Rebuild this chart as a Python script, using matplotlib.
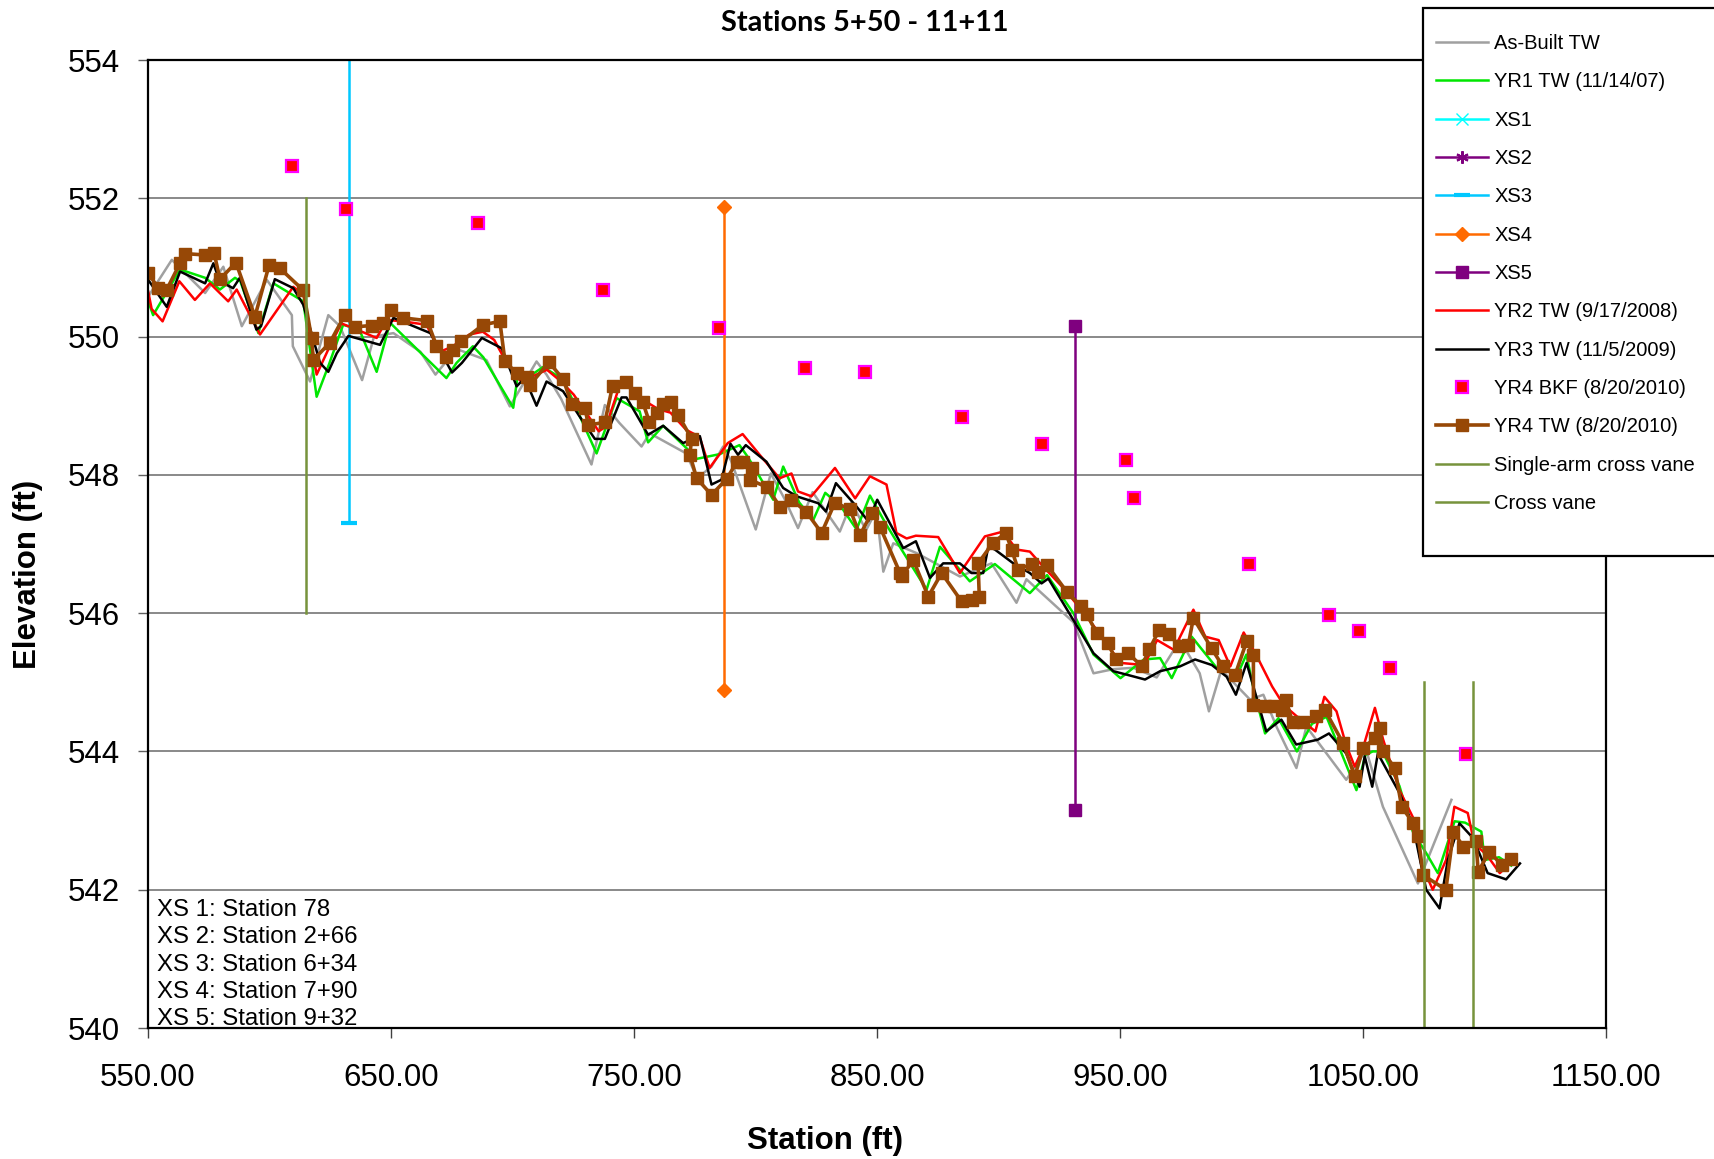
import matplotlib
matplotlib.use("Agg")
import matplotlib.pyplot as plt
from matplotlib.patches import Rectangle

plt.rcParams['font.family'] = ['Liberation Sans', 'DejaVu Sans']

# ---- data (station ft, elevation ft) ----
asbuilt_x = [550.1, 559.8, 573.5, 581.0, 588.6, 598.9, 609.2, 609.6, 616.7, 624.2, 629.0, 638.1, 643.0,
             651.0, 662.1, 668.3, 677.0, 689.3, 698.9, 709.9, 714.0, 720.0, 732.5, 738.0, 744.0, 753.1,
             756.5, 771.5, 776.0, 781.9, 786.7, 790.0, 800.1, 806.3, 812.0, 817.5, 823.5, 834.7, 839.5,
             845.5, 849.8, 852.6, 856.7, 866.2, 884.1, 897.1, 907.4, 911.5, 930.8, 939.1, 947.3, 955.5,
             965.1, 974.7, 982.8, 986.6, 991.7, 1003.5, 1009.0, 1014.5, 1022.6, 1026.7, 1043.1, 1051.3,
             1058.2, 1072.6, 1086.4]
asbuilt_y = [550.58, 551.11, 550.63, 551.01, 550.15, 550.82, 550.31, 549.86, 549.35, 550.31, 550.15, 549.37,
             550.00, 550.05, 549.78, 549.45, 549.82, 549.66, 548.99, 549.64, 549.45, 549.10, 548.15, 549.01,
             548.75, 548.41, 548.60, 548.31, 547.95, 548.12, 548.41, 548.20, 547.21, 548.02, 547.65, 547.23,
             547.75, 547.18, 547.60, 547.20, 547.49, 546.60, 547.01, 546.87, 546.53, 546.72, 546.15, 546.49,
             545.87, 545.13, 545.19, 545.21, 545.07, 545.61, 545.13, 544.58, 545.18, 544.75, 544.82, 544.35,
             543.76, 544.36, 543.59, 544.02, 543.20, 542.09, 543.30]

yr1_x = [550.1, 552.1, 563.2, 573.5, 579.6, 585.8, 588.0, 595.4, 601.6, 613.9, 619.4, 624.5, 630.3, 637.0,
         644.1, 649.6, 672.8, 677.0, 683.7, 688.0, 700.3, 702.0, 708.0, 712.6, 720.9, 734.6, 742.8, 752.3,
         755.8, 762.0, 771.5, 775.6, 785.3, 793.4, 797.0, 807.3, 811.4, 818.0, 823.8, 828.7, 835.0, 841.6,
         847.1, 853.5, 860.1, 870.4, 875.9, 888.2, 898.5, 912.9, 920.0, 930.8, 939.1, 950.2, 959.8, 966.5,
         971.3, 979.5, 990.9, 999.2, 1002.0, 1005.0, 1009.7, 1015.2, 1022.8, 1029.0, 1035.0, 1042.0, 1047.3,
         1051.0, 1054.0, 1058.0, 1065.0, 1070.5, 1076.0, 1080.8, 1087.7, 1092.0, 1098.7, 1100.1, 1106.0,
         1111.0]
yr1_y = [550.51, 550.31, 550.97, 550.85, 550.68, 550.85, 550.80, 550.05, 550.77, 550.51, 549.13, 549.60,
         550.17, 550.10, 549.49, 550.20, 549.40, 549.62, 549.86, 549.70, 548.97, 549.40, 549.45, 549.56,
         549.38, 548.31, 549.11, 548.92, 548.47, 548.71, 548.39, 548.23, 548.30, 548.43, 548.25, 547.64,
         548.12, 547.60, 547.35, 547.74, 547.55, 547.21, 547.70, 547.30, 546.92, 546.34, 546.96, 546.46,
         546.71, 546.29, 546.55, 546.00, 545.40, 545.06, 545.33, 545.35, 545.06, 545.66, 545.16, 545.18,
         545.40, 544.90, 544.26, 544.48, 544.00, 544.40, 544.50, 543.90, 543.44, 543.95, 544.00, 544.00,
         543.50, 542.84, 542.53, 542.24, 542.99, 542.97, 542.84, 542.43, 542.47, 542.35]

yr2_x = [550.1, 551.5, 556.0, 562.9, 569.3, 575.5, 583.0, 586.5, 596.1, 609.8, 614.0, 619.4, 624.8, 629.6,
         636.0, 644.1, 648.2, 655.0, 664.6, 670.1, 675.0, 682.3, 687.8, 692.5, 697.6, 703.0, 708.0, 714.2,
         720.0, 725.2, 735.5, 738.5, 743.8, 748.0, 753.0, 760.0, 765.0, 771.5, 777.0, 781.1, 788.6, 794.7,
         801.7, 809.9, 814.8, 817.5, 823.0, 832.7, 841.0, 847.1, 853.9, 858.0, 862.2, 866.0, 875.2, 884.1,
         894.4, 901.9, 907.4, 912.9, 917.7, 927.3, 934.0, 940.4, 950.2, 959.8, 965.3, 972.1, 980.2, 985.1,
         990.6, 995.4, 1000.9, 1005.7, 1012.6, 1017.4, 1023.0, 1030.4, 1034.1, 1039.1, 1043.0, 1046.6,
         1050.0, 1054.9, 1058.3, 1065.0, 1070.5, 1073.9, 1078.7, 1084.2, 1087.6, 1093.1, 1095.8, 1101.0,
         1106.3, 1111.0]
yr2_y = [550.65, 550.40, 550.22, 550.80, 550.53, 550.77, 550.51, 550.68, 550.03, 550.72, 550.60, 549.45,
         549.86, 550.19, 550.10, 549.98, 550.24, 550.22, 550.17, 549.78, 549.85, 550.03, 550.07, 549.95,
         549.62, 549.37, 549.42, 549.52, 549.35, 549.16, 548.63, 548.70, 549.26, 549.26, 549.10, 548.95,
         548.90, 548.65, 548.55, 548.10, 548.46, 548.59, 548.29, 547.95, 548.02, 547.76, 547.69, 548.10,
         547.66, 547.98, 547.86, 547.16, 547.08, 547.12, 547.10, 546.58, 547.11, 547.18, 546.92, 546.89,
         546.70, 546.34, 546.05, 545.76, 545.28, 545.25, 545.61, 545.47, 546.05, 545.66, 545.61, 545.23,
         545.72, 545.42, 544.94, 544.67, 544.50, 544.29, 544.79, 544.58, 544.10, 543.78, 544.05, 544.63,
         544.17, 543.44, 543.05, 542.38, 542.00, 542.43, 543.20, 543.11, 542.67, 542.50, 542.24, 542.40]

yr3_x = [550.1, 557.7, 563.2, 573.5, 576.9, 579.5, 585.0, 587.8, 594.6, 596.5, 602.2, 609.8, 613.9, 620.8,
         624.2, 627.7, 632.5, 645.5, 651.0, 666.2, 675.1, 679.2, 687.4, 695.6, 701.7, 705.0, 709.9, 714.0,
         720.8, 727.7, 733.9, 738.0, 744.9, 746.9, 755.8, 762.0, 770.2, 777.1, 781.9, 786.0, 789.7, 792.8,
         796.0, 804.5, 811.4, 816.9, 825.8, 829.0, 833.1, 841.6, 846.4, 850.1, 860.8, 866.0, 871.8, 877.2,
         884.1, 888.9, 893.7, 895.8, 898.5, 906.1, 912.9, 917.7, 920.5, 930.8, 939.1, 947.3, 952.8, 960.3,
         966.5, 974.7, 980.9, 987.8, 993.9, 997.7, 1002.1, 1010.2, 1016.4, 1022.5, 1031.4, 1036.0, 1043.1,
         1048.6, 1050.7, 1053.8, 1056.1, 1065.0, 1070.5, 1076.0, 1081.5, 1084.9, 1089.7, 1095.2, 1101.3,
         1108.9, 1114.6]
yr3_y = [550.82, 550.43, 550.94, 550.77, 551.06, 550.80, 550.70, 550.85, 550.10, 550.15, 550.83, 550.70,
         550.46, 549.62, 549.49, 549.76, 550.01, 549.88, 550.27, 550.05, 549.48, 549.62, 549.98, 549.83,
         549.28, 549.40, 549.00, 549.35, 549.21, 548.84, 548.52, 548.52, 549.12, 549.12, 548.58, 548.71,
         548.46, 548.56, 547.86, 547.93, 548.45, 548.29, 548.43, 548.19, 547.81, 547.69, 547.59, 547.47,
         547.88, 547.54, 547.33, 547.64, 546.94, 547.04, 546.51, 546.72, 546.72, 546.58, 546.58, 546.96,
         546.92, 546.72, 546.58, 546.43, 546.50, 545.90, 545.42, 545.16, 545.11, 545.04, 545.16, 545.23,
         545.33, 545.25, 545.08, 544.82, 545.28, 544.29, 544.46, 544.10, 544.17, 544.26, 543.97, 543.49,
         543.93, 543.49, 543.97, 543.40, 542.94, 542.00, 541.73, 542.43, 542.96, 542.75, 542.24, 542.15,
         542.38]

bkf_x = [609.4, 631.5, 685.9, 737.2, 784.9, 820.5, 845.2, 884.8, 918.1, 952.3, 955.9, 1003.2, 1036.0,
         1048.2, 1061.2, 1092.3]
bkf_y = [552.47, 551.85, 551.64, 550.68, 550.12, 549.54, 549.49, 548.84, 548.45, 548.21, 547.66, 546.71,
         545.98, 545.74, 545.20, 543.97]

yr4_x = [550.1, 554.2, 557.7, 563.2, 565.2, 573.5, 577.2, 579.6, 586.2, 594.0, 599.9, 604.2, 613.9, 617.3,
         618.0, 624.8, 631.0, 635.1, 642.0, 646.8, 650.2, 655.0, 664.9, 668.7, 672.8, 675.6, 679.0, 687.9,
         694.8, 696.9, 701.7, 705.8, 707.2, 715.0, 720.9, 724.3, 729.8, 731.2, 738.0, 741.2, 746.7, 750.4,
         753.5, 756.3, 759.3, 761.8, 765.1, 768.2, 773.7, 773.0, 775.8, 781.9, 788.1, 792.2, 794.7, 798.4,
         797.7, 804.8, 810.0, 814.8, 820.8, 827.2, 832.7, 838.9, 843.0, 847.8, 851.2, 859.5, 860.2, 864.9,
         871.1, 876.6, 884.8, 888.9, 892.1, 891.6, 897.8, 903.0, 905.4, 908.1, 913.6, 916.4, 920.1, 928.3,
         934.0, 936.3, 940.4, 944.9, 948.3, 953.2, 958.9, 962.1, 966.2, 970.3, 974.4, 978.1, 980.2, 987.7,
         992.3, 997.3, 1002.1, 1004.9, 1004.9, 1009.7, 1013.4, 1016.5, 1018.3, 1021.0, 1025.4, 1030.6,
         1034.3, 1041.8, 1046.6, 1050.1, 1054.9, 1057.0, 1058.1, 1063.1, 1065.9, 1070.7, 1072.7, 1074.8,
         1084.1, 1087.2, 1091.3, 1096.5, 1097.4, 1102.0, 1107.0, 1111.1]
yr4_y = [550.92, 550.70, 550.68, 551.06, 551.20, 551.18, 551.21, 550.83, 551.07, 550.29, 551.04, 550.99,
         550.67, 549.98, 549.66, 549.91, 550.31, 550.14, 550.16, 550.20, 550.38, 550.27, 550.23, 549.87,
         549.71, 549.81, 549.93, 550.17, 550.22, 549.64, 549.47, 549.42, 549.30, 549.63, 549.38, 549.03,
         548.97, 548.72, 548.76, 549.29, 549.34, 549.19, 549.06, 548.77, 548.90, 549.03, 549.06, 548.87,
         548.52, 548.29, 547.95, 547.71, 547.94, 548.18, 548.18, 548.10, 547.93, 547.82, 547.54, 547.64,
         547.47, 547.16, 547.60, 547.50, 547.13, 547.45, 547.25, 546.58, 546.53, 546.77, 546.24, 546.58,
         546.17, 546.19, 546.23, 546.72, 547.02, 547.16, 546.92, 546.63, 546.71, 546.60, 546.69, 546.30,
         546.10, 545.99, 545.71, 545.57, 545.33, 545.43, 545.23, 545.48, 545.76, 545.70, 545.52, 545.54,
         545.93, 545.49, 545.23, 545.10, 545.59, 545.40, 544.67, 544.65, 544.65, 544.60, 544.75, 544.42,
         544.43, 544.51, 544.60, 544.12, 543.64, 544.05, 544.19, 544.34, 544.00, 543.76, 543.20, 542.96,
         542.77, 542.21, 542.00, 542.84, 542.62, 542.70, 542.26, 542.55, 542.36, 542.44]

# cross sections (vertical lines)
xs3_x = [632.8, 632.8]
xs3_y = [547.31, 555.5]
xs4_x = [787.0, 787.0]
xs4_y = [551.88, 544.89]
xs5_x = [931.5, 931.5]
xs5_y = [550.16, 543.15]

# vanes
single_vane_x = [615.0, 615.0]
single_vane_y = [552.0, 546.0]
cross_vane_x = [1075.1, 1095.1]
cross_vane_top = 545.0
cross_vane_bottom = 540.0

xs_notes = ["XS 1: Station 78", "XS 2: Station 2+66", "XS 3: Station 6+34",
            "XS 4: Station 7+90", "XS 5: Station 9+32"]

x_ticks = [550, 650, 750, 850, 950, 1050, 1150]
y_ticks = [540, 542, 544, 546, 548, 550, 552, 554]

# ---- figure ----
W, H = 1715, 1159
fig = plt.figure(figsize=(W / 100, H / 100), dpi=100)
ax = fig.add_axes([148 / W, 1 - 1028 / H, (1606 - 148) / W, (1028 - 60) / H])

vane_c = '#77933C'
ax.plot(asbuilt_x, asbuilt_y, color='#A0A0A0', lw=1.8, label='As-Built TW')
ax.plot(yr1_x, yr1_y, color='#00E600', lw=1.8, label='YR1 TW (11/14/07)')
ax.plot([], [], color='#00FFFF', lw=1.8, marker='x', ms=8, label='XS1')
ax.plot([], [], color='#7F007F', lw=1.8, marker=(6, 2, 0), ms=9, mew=1.5, label='XS2')
ax.plot(xs3_x, xs3_y, color='#00C8FF', lw=1.8, marker='_', ms=11, mew=3, label='XS3')
ax.plot(xs4_x, xs4_y, color='#FF6A00', lw=1.8, marker='D', ms=7, label='XS4')
ax.plot(xs5_x, xs5_y, color='#7F007F', lw=1.8, marker='s', ms=9, label='XS5')
ax.plot(yr2_x, yr2_y, color='#FF0000', lw=1.8, label='YR2 TW (9/17/2008)')
ax.plot(yr3_x, yr3_y, color='#000000', lw=1.8, label='YR3 TW (11/5/2009)')
ax.plot(bkf_x, bkf_y, ls='none', marker='s', ms=8, mfc='#FF0000', mec='#FF00FF', mew=1.6,
        label='YR4 BKF (8/20/2010)')
ax.plot(yr4_x, yr4_y, color='#974806', lw=2.6, marker='s', ms=8.3, label='YR4 TW (8/20/2010)')
ax.plot(single_vane_x, single_vane_y, color=vane_c, lw=1.8, label='Single-arm cross vane')
for i, xv in enumerate(cross_vane_x):
    ax.plot([xv, xv], [cross_vane_top, cross_vane_bottom], color=vane_c, lw=1.8,
            label='Cross vane' if i == 0 else None)

ax.set_xlim(550, 1150)
ax.set_ylim(540, 554)
ax.set_xticks(x_ticks)
ax.set_xticklabels([f"{v:.2f}" for v in x_ticks])
ax.set_yticks(y_ticks)
ax.set_yticklabels([str(v) for v in y_ticks])
ax.tick_params(axis='x', direction='out', length=7, width=1, color='#404040', labelsize=22.5, pad=18)
ax.tick_params(axis='y', direction='out', length=7, width=1, color='#606060', labelsize=22.5, pad=13)
ax.yaxis.grid(True, color='#808080', lw=1.3)
ax.set_axisbelow(True)
for s in ax.spines.values():
    s.set_color('black')
    s.set_linewidth(1.6)

ax.set_xlabel('Station (ft)', fontsize=22.5, fontweight='bold', va='center')
ax.xaxis.set_label_coords((825 - 148) / 1458, -(1141 - 1028) / 968)
ax.set_ylabel('Elevation (ft)', fontsize=22.5, fontweight='bold', va='center')
ax.yaxis.set_label_coords((28 - 148) / 1458, (1028 - 574) / 968)

ax.text((865 - 148) / 1458, (1028 - 23) / 968, 'Stations 5+50 - 11+11', transform=ax.transAxes,
        fontsize=20.8, fontweight='bold', family=['Lato', 'DejaVu Sans'], ha='center', va='center')

ax.text(0.006, (1028 - 899) / 968, "\n".join(xs_notes), transform=ax.transAxes, fontsize=17.3,
        va='top', ha='left', linespacing=1.31, clip_on=True)

# legend box
fig.add_artist(Rectangle((1423 / W, 1 - 556 / H), 0.2, (556 - 8) / H, transform=fig.transFigure,
                         facecolor='white', edgecolor='black', lw=1.6, zorder=3))
handles, labels = ax.get_legend_handles_labels()
fig.legend(handles, labels, loc='upper left', bbox_to_anchor=(1436 / W, 1 - 34 / H), frameon=False,
           fontsize=14.5, borderpad=0, borderaxespad=0, handlelength=2.6, handletextpad=0.3,
           labelspacing=0.96, numpoints=1)

fig.savefig('out.png', dpi=100)
